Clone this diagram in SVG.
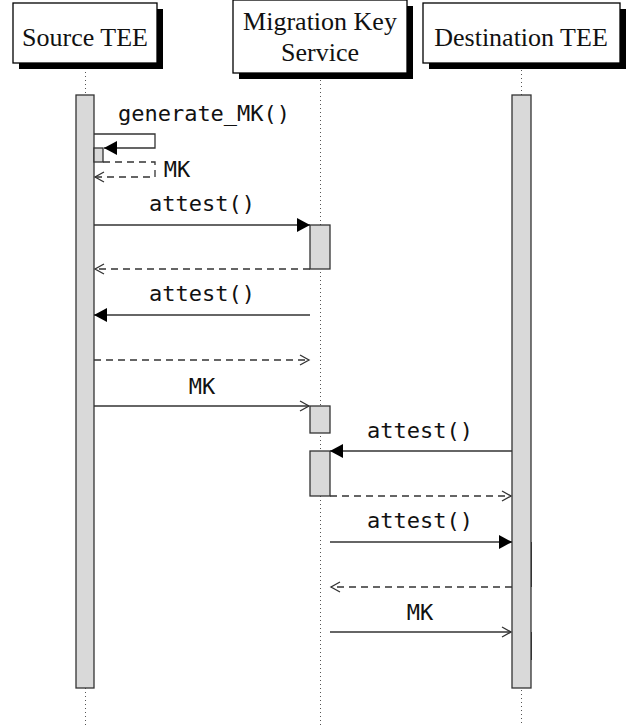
<svg xmlns="http://www.w3.org/2000/svg" width="630" height="725" viewBox="0 0 630 725">
<style>
.box{fill:#fff;stroke:#000;stroke-width:1.3}
.shadow{fill:#000}
.title{font-family:"Liberation Serif","DejaVu Serif",serif;font-size:26px;fill:#111;text-anchor:middle}
.life{stroke:#555;stroke-width:1;stroke-dasharray:1 3;fill:none}
.act{fill:#d9d9d9;stroke:#333;stroke-width:1.3}
.edge{stroke:#333;stroke-width:1}
.msg{stroke:#333;stroke-width:1.3;fill:none}
.ret{stroke:#333;stroke-width:1.3;fill:none;stroke-dasharray:7 5}
.lbl{font-family:"DejaVu Sans Mono","Liberation Mono",monospace;font-size:22px;fill:#111;text-anchor:middle}
</style>
<defs>
<marker id="filled" markerUnits="userSpaceOnUse" markerWidth="14" markerHeight="14" refX="13" refY="7" orient="auto">
<path d="M0,0 L13,7 L0,14 z" fill="#000"/>
</marker>
<marker id="open" markerUnits="userSpaceOnUse" markerWidth="12" markerHeight="12" refX="10" refY="6" orient="auto">
<path d="M1,1 L10,6 L1,11" fill="none" stroke="#333" stroke-width="1.3"/>
</marker>
</defs>
<rect width="630" height="725" fill="#fff"/>

<g id="lifelines">
<line class="life" x1="85.5" y1="64" x2="85.5" y2="725"/>
<line class="life" x1="320.5" y1="80" x2="320.5" y2="725"/>
<line class="life" x1="521.5" y1="70" x2="521.5" y2="725"/>
</g>

<g id="source-tee">
<rect class="shadow" x="19" y="9" width="144" height="60"/>
<rect class="box" x="13" y="3" width="144" height="60"/>
<text class="title" x="85" y="46">Source TEE</text>
<rect class="act" x="76" y="95" width="18" height="593"/>
<rect class="act" x="94" y="148" width="9" height="14"/>
</g>

<g id="migration-key-service">
<rect class="shadow" x="239" y="6" width="174" height="73"/>
<rect class="box" x="233" y="0" width="174" height="73"/>
<text class="title" x="320" y="30">Migration Key</text>
<text class="title" x="320" y="61">Service</text>
<rect class="act" x="310" y="225" width="20" height="44"/>
<rect class="act" x="310" y="406" width="20" height="27"/>
<rect class="act" x="310" y="451" width="20" height="45"/>
</g>

<g id="destination-tee">
<rect class="shadow" x="429" y="9" width="197" height="60"/>
<rect class="box" x="423" y="3" width="197" height="60"/>
<text class="title" x="521" y="46">Destination TEE</text>
<rect class="act" x="512" y="95" width="19" height="593"/>
<line class="edge" x1="531.5" y1="542" x2="531.5" y2="587"/>
<line class="edge" x1="531.5" y1="632" x2="531.5" y2="660"/>
</g>

<g id="connectors">
<path class="msg" d="M94,134 H155 V148 H104" marker-end="url(#filled)"/>
<text class="lbl" x="204" y="121">generate_MK()</text>
<path class="ret" d="M103,162 H155 V177 H95" marker-end="url(#open)"/>
<text class="lbl" x="177" y="177">MK</text>

<line class="msg" x1="94" y1="225" x2="310" y2="225" marker-end="url(#filled)"/>
<text class="lbl" x="202" y="211">attest()</text>
<line class="ret" x1="310" y1="269" x2="95" y2="269" marker-end="url(#open)"/>

<line class="msg" x1="310" y1="315" x2="94" y2="315" marker-end="url(#filled)"/>
<text class="lbl" x="202" y="301">attest()</text>
<line class="ret" x1="94" y1="360" x2="309" y2="360" marker-end="url(#open)"/>

<line class="msg" x1="94" y1="406" x2="309" y2="406" marker-end="url(#open)"/>
<text class="lbl" x="202" y="394">MK</text>

<line class="msg" x1="512" y1="451" x2="330" y2="451" marker-end="url(#filled)"/>
<text class="lbl" x="420" y="438">attest()</text>
<line class="ret" x1="330" y1="496" x2="511" y2="496" marker-end="url(#open)"/>

<line class="msg" x1="330" y1="542" x2="512" y2="542" marker-end="url(#filled)"/>
<text class="lbl" x="420" y="528">attest()</text>
<line class="ret" x1="512" y1="587" x2="331" y2="587" marker-end="url(#open)"/>

<line class="msg" x1="330" y1="632" x2="511" y2="632" marker-end="url(#open)"/>
<text class="lbl" x="420" y="620">MK</text>
</g>
</svg>
